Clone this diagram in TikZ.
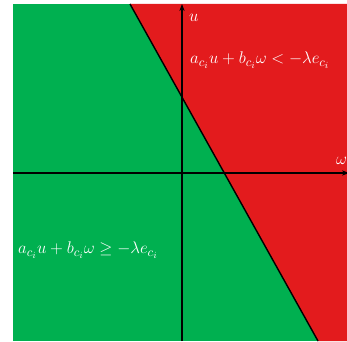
\documentclass[tikz,border=0pt]{standalone}
\usepackage{xcolor}
\usepackage{tikz}
\usetikzlibrary{arrows.meta}
\usepackage{amsmath}
\definecolor{RegGreen}{RGB}{0,176,80}
\definecolor{RegRed}{RGB}{227,27,29}

\begin{document}
\begin{tikzpicture}[x=0.03cm, y=0.03cm,
    regionlabel/.style={text=white, font=\fontsize{15.4}{19}\selectfont, inner sep=0pt},
    axis/.style={black, line width=1.2pt, -{Stealth[length=6pt]}}]
        \useasboundingbox (0,0) rectangle (347,341);
        % Regions
        \fill[RegGreen] (13,0) rectangle (347,337);
        \fill[RegRed] (130,337) -- (347,337) -- (347,0) -- (318,0) -- cycle;
        % Boundary line
        \coordinate (btop) at (130,337);
        \coordinate (bbot) at (318,0);
        \draw[black, line width=1.2pt] (btop) -- (bbot);
        % Axes
        \coordinate (uO) at (182,0);
        \coordinate (uE) at (182,337);
        \coordinate (wO) at (13,168);
        \coordinate (wE) at (349,168);
        \draw[axis] (uO) -- (uE);
        \draw[axis] (wO) -- (wE);
        \node[regionlabel, anchor=west] (ulab) at (189,323) {$u$};
        \node[regionlabel, anchor=west] (wlab) at (336,180) {$\omega$};
        % Region labels
        \node[regionlabel, anchor=west] (redlab) at (190,281)
              {$a_{c_i}u + b_{c_i}\omega < -\lambda e_{c_i}$};
        \node[regionlabel, anchor=west] (greenlab) at (18,91)
              {$a_{c_i}u + b_{c_i}\omega \geq -\lambda e_{c_i}$};
      \end{tikzpicture}
\end{document}
